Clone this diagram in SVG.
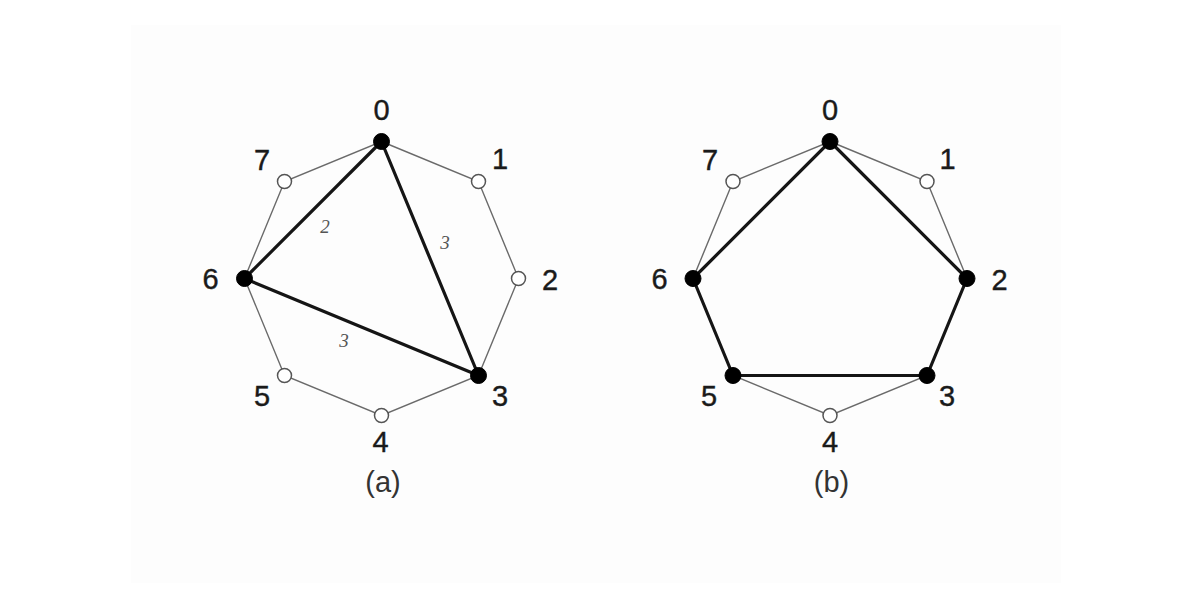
<svg xmlns="http://www.w3.org/2000/svg" width="1200" height="609" viewBox="0 0 1200 609">
<style>
.thin{stroke:#6a6a6a;stroke-width:1.4;fill:none;stroke-linecap:round}
.thick{stroke:#151515;stroke-width:3.2;fill:none;stroke-linecap:round}
.open{fill:#ffffff;stroke:#555555;stroke-width:1.5}
.full{fill:#000000;stroke:#000000;stroke-width:1}
.lab{font-family:"Liberation Sans",Arial,sans-serif;font-size:29px;fill:#1a1a1a;stroke:#1a1a1a;stroke-width:0.4;text-anchor:middle}
.cap{font-family:"Liberation Sans",Arial,sans-serif;font-size:29px;fill:#333333;text-anchor:middle}
.w{font-family:"Liberation Serif","Times New Roman",serif;font-style:italic;font-size:19px;fill:#555555;text-anchor:middle}
</style>
<rect x="131" y="25" width="930" height="558" fill="#fdfdfd"/>

<g id="connectors">
  <!-- (a) octagon -->
  <polygon class="thin" points="381.5,141.5 478.5,181.5 518.5,278.5 478.5,375.5 381.5,415.5 284.5,375.5 244.5,278.5 284.5,181.5"/>
  <!-- (a) triangle -->
  <line class="thick" x1="381.5" y1="141.5" x2="244.5" y2="278.5"/>
  <line class="thick" x1="381.5" y1="141.5" x2="478.5" y2="375.5"/>
  <line class="thick" x1="244.5" y1="278.5" x2="478.5" y2="375.5"/>
  <text class="w" x="325" y="233">2</text>
  <text class="w" x="445" y="249">3</text>
  <text class="w" x="344" y="347">3</text>
  <!-- (b) thin -->
  <polygon class="thin" points="830,141.5 927,181.5 967,278.5 927,375.5 830,415.5 733,375.5 693,278.5 733,181.5"/>
  <!-- (b) pentagon -->
  <polygon class="thick" points="830,141.5 967,278.5 927,375.5 733,375.5 693,278.5"/>
</g>

<g id="a-node-0"><circle class="full" cx="381.5" cy="141.5" r="8"/><text class="lab" x="381.5" y="119.5">0</text></g>
<g id="a-node-1"><circle class="open" cx="478.5" cy="181.5" r="7"/><text class="lab" x="500" y="169">1</text></g>
<g id="a-node-2"><circle class="open" cx="518.5" cy="278.5" r="7"/><text class="lab" x="550" y="290">2</text></g>
<g id="a-node-3"><circle class="full" cx="478.5" cy="375.5" r="8"/><text class="lab" x="500" y="405.5">3</text></g>
<g id="a-node-4"><circle class="open" cx="381.5" cy="415.5" r="7"/><text class="lab" x="380.5" y="452">4</text></g>
<g id="a-node-5"><circle class="open" cx="284.5" cy="375.5" r="7"/><text class="lab" x="262" y="405.5">5</text></g>
<g id="a-node-6"><circle class="full" cx="244.5" cy="278.5" r="8"/><text class="lab" x="210.5" y="289">6</text></g>
<g id="a-node-7"><circle class="open" cx="284.5" cy="181.5" r="7"/><text class="lab" x="262" y="170">7</text></g>
<text class="cap" x="383" y="492">(a)</text>

<g id="b-node-0"><circle class="full" cx="830" cy="141.5" r="8"/><text class="lab" x="830" y="119.5">0</text></g>
<g id="b-node-1"><circle class="open" cx="927" cy="181.5" r="7"/><text class="lab" x="947.5" y="169">1</text></g>
<g id="b-node-2"><circle class="full" cx="967" cy="278.5" r="8"/><text class="lab" x="999.5" y="290">2</text></g>
<g id="b-node-3"><circle class="full" cx="927" cy="375.5" r="8"/><text class="lab" x="947" y="405.5">3</text></g>
<g id="b-node-4"><circle class="open" cx="830" cy="415.5" r="7"/><text class="lab" x="830" y="452">4</text></g>
<g id="b-node-5"><circle class="full" cx="733" cy="375.5" r="8"/><text class="lab" x="709" y="405.5">5</text></g>
<g id="b-node-6"><circle class="full" cx="693" cy="278.5" r="8"/><text class="lab" x="659.5" y="289">6</text></g>
<g id="b-node-7"><circle class="open" cx="733" cy="181.5" r="7"/><text class="lab" x="710" y="170">7</text></g>
<text class="cap" x="831.5" y="492">(b)</text>
</svg>
